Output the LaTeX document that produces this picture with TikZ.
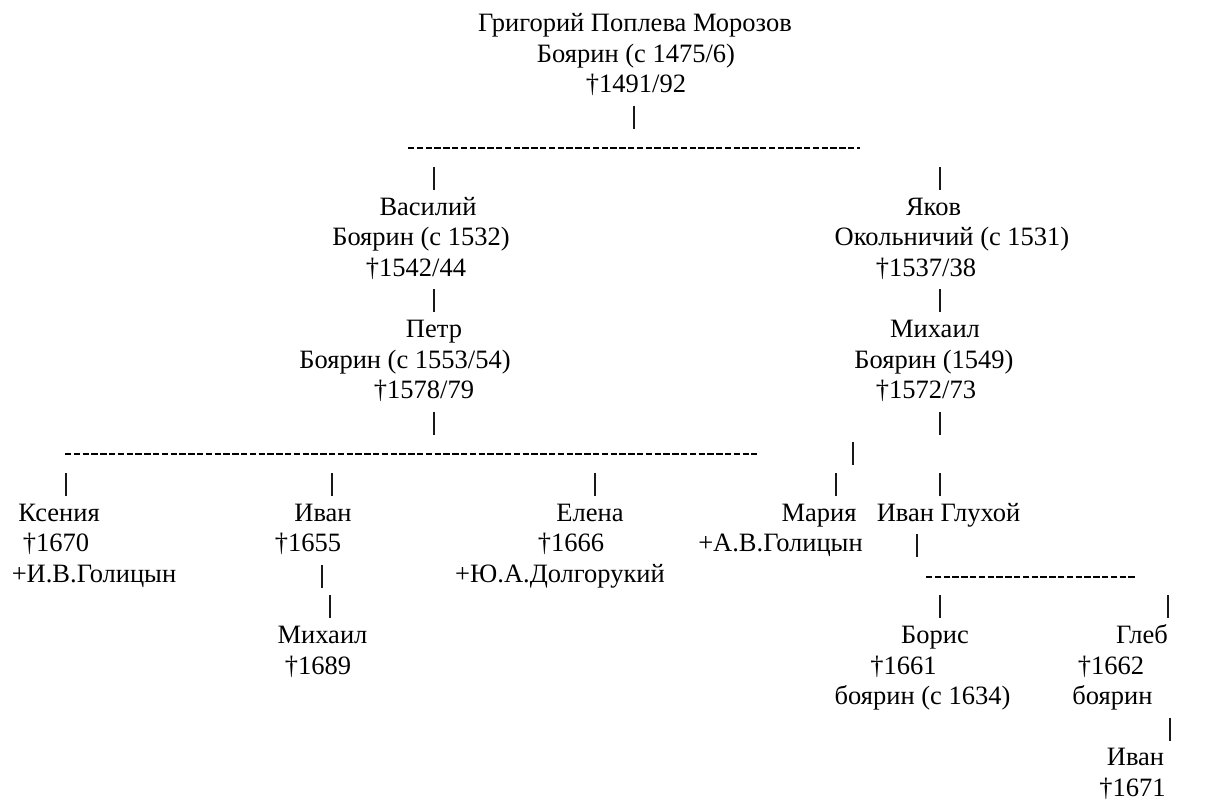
\documentclass[tikz,border=0pt]{standalone}
\usepackage{fontspec}
\setmainfont{Liberation Serif}
\newfontfamily\lserif{Liberation Serif}
\newcommand\vbarat[3]{% name, x, baseline
  \coordinate (#1t) at (#2,#3-17.5);
  \coordinate (#1b) at (#2,#3+5.5);
  \draw[vbar] (#1t) -- (#1b);}
\newcommand\hdashat[4]{% name, x1, x2, baseline
  \coordinate (#1l) at (#2,#4-5.5);
  \coordinate (#1r) at (#3,#4-5.5);
  \draw[hdash] (#1l) -- (#1r);}
\tikzset{
  txt/.style={anchor=base, inner sep=0pt, outer sep=0pt, font=\lserif\fontsize{26.5}{30.6}\selectfont, text=black},
  vbar/.style={line width=1.4pt, black!90},
  hdash/.style={line width=2pt, black, dash pattern=on 6.3pt off 2.5pt},
}
\begin{document}
\begin{tikzpicture}[x=1pt,y=-1pt]
\fill[white] (0,0) rectangle (1207,801);
\useasboundingbox (0,0) rectangle (1207,801);
% root
\node[txt] (g1) at (635,31.5) {Григорий Поплева Морозов};
\node[txt] (g2) at (636,62.1) {Боярин (с 1475/6)};
\node[txt] (g3) at (636,92.7) {†1491/92};
\vbarat{bg}{634}{123.3}
\hdashat{d1}{408}{860}{153.9}
\vbarat{bv}{434}{184.5}
\vbarat{by}{940}{184.5}
% Vasily / Yakov
\node[txt] (v1) at (428,215.1) {Василий};
\node[txt] (v2) at (421,245.7) {Боярин (с 1532)};
\node[txt] (v3) at (416,276.3) {†1542/44};
\node[txt] (y1) at (933.5,215.1) {Яков};
\node[txt] (y2) at (952,245.7) {Окольничий (с 1531)};
\node[txt] (y3) at (926,276.3) {†1537/38};
\vbarat{bp}{434}{306.9}
\vbarat{bm}{940}{306.9}
% Petr / Mikhail
\node[txt] (p1) at (434,337.5) {Петр};
\node[txt] (p2) at (405,368.1) {Боярин (с 1553/54)};
\node[txt] (p3) at (424,398.7) {†1578/79};
\node[txt] (m1) at (935,337.5) {Михаил};
\node[txt] (m2) at (934,368.1) {Боярин (1549)};
\node[txt] (m3) at (926,398.7) {†1572/73};
\vbarat{bpc}{434}{429.3}
\vbarat{bmc}{940}{429.3}
\hdashat{d2}{65}{757}{459.9}
\vbarat{bmx}{853}{459.9}
\vbarat{bk}{66}{490.5}
\vbarat{bi}{332}{490.5}
\vbarat{be}{595}{490.5}
\vbarat{bma}{836}{490.5}
\vbarat{big}{940}{490.5}
% children row
\node[txt] (k1) at (59,521.1) {Ксения};
\node[txt] (k2) at (56,551.7) {†1670};
\node[txt] (k3) at (94,582.3) {+И.В.Голицын};
\node[txt] (i1) at (323,521.1) {Иван};
\node[txt] (i2) at (308,551.7) {†1655};
\vbarat{bi1}{322}{582.3}
\vbarat{bi2}{330}{612.9}
\node[txt] (mi1) at (322.5,643.5) {Михаил};
\node[txt] (mi2) at (318,674.1) {†1689};
\node[txt] (e1) at (590,521.1) {Елена};
\node[txt] (e2) at (571,551.7) {†1666};
\node[txt] (e3) at (560,582.3) {+Ю.А.Долгорукий};
\node[txt] (ma1) at (819,521.1) {Мария};
\node[txt] (ma2) at (780.5,551.7) {+А.В.Голицын};
\node[txt] (ig1) at (948.5,521.1) {Иван Глухой};
\vbarat{bg1}{917}{551.7}
\hdashat{d3}{926}{1137}{582.3}
\vbarat{bb}{940}{612.9}
\vbarat{bgl}{1168}{612.9}
\node[txt] (b1) at (935,643.5) {Борис};
\node[txt] (b2) at (903.5,674.1) {†1661};
\node[txt] (b3) at (922.5,704.7) {боярин (с 1634)};
\node[txt] (gl1) at (1142,643.5) {Глеб};
\node[txt] (gl2) at (1111,674.1) {†1662};
\node[txt] (gl3) at (1112.5,704.7) {боярин};
\vbarat{bgi}{1170}{735.3}
\node[txt] (iv1) at (1135.5,765.9) {Иван};
\node[txt] (iv2) at (1132.5,796.5) {†1671};
\end{tikzpicture}
\end{document}
